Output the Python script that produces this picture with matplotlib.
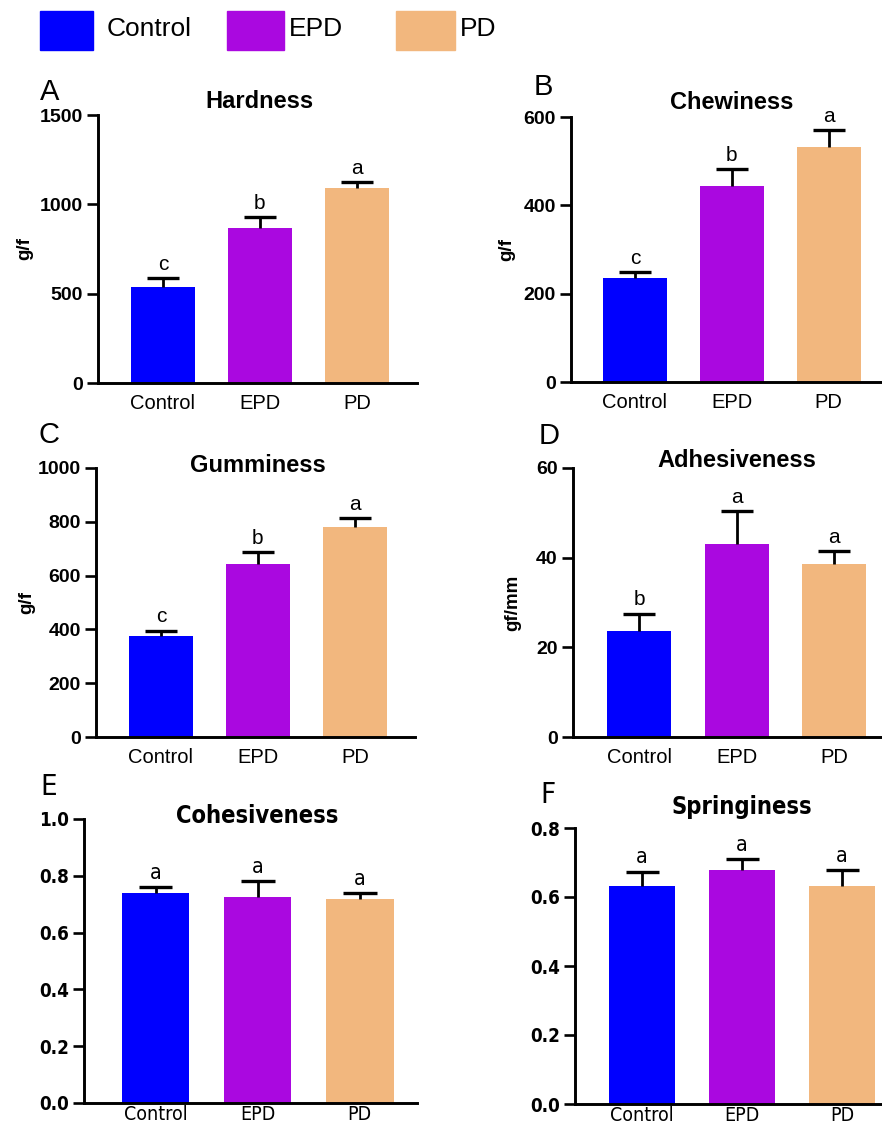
import matplotlib
matplotlib.use("Agg")
import matplotlib.pyplot as plt
from matplotlib.patches import Rectangle
from matplotlib.ticker import FormatStrFormatter
import numpy as np

groups = ["Control", "EPD", "PD"]
colors = ["#0000FF", "#AA08E0", "#F2B77E"]

hardness = [538, 866, 1089]
hardness_err = [47, 62, 34]
hardness_sig = ["c", "b", "a"]

chewiness = [236, 443, 531]
chewiness_err = [12, 39, 39]
chewiness_sig = ["c", "b", "a"]

gumminess = [374, 642, 782]
gumminess_err = [21, 44, 32]
gumminess_sig = ["c", "b", "a"]

adhesiveness = [23.6, 43.0, 38.5]
adhesiveness_err = [3.9, 7.4, 2.9]
adhesiveness_sig = ["b", "a", "a"]

cohesiveness = [0.738, 0.725, 0.717]
cohesiveness_err = [0.022, 0.055, 0.021]
cohesiveness_sig = ["a", "a", "a"]

springiness = [0.632, 0.677, 0.632]
springiness_err = [0.041, 0.032, 0.045]
springiness_sig = ["a", "a", "a"]

REG = ["Liberation Sans", "DejaVu Sans"]
NARROW = ["DejaVu Sans"]

W, H = 882, 1125
fig = plt.figure(figsize=(W / 100, H / 100), dpi=100)


def px_axes(left, right, top, bottom):
    return fig.add_axes([left / W, 1 - bottom / H, (right - left) / W, (bottom - top) / H])


# letter, title, values, err, sig, ylabel, yticks, ylim, xlim, box(px), title pad, letter pos, narrow?
panels = [
    ("A", "Hardness", hardness, hardness_err, hardness_sig, "g/f",
     [0, 500, 1000, 1500], (0, 1500), (-0.67, 2.62), (98, 417, 115, 383), 5, (40, 100), False),
    ("B", "Chewiness", chewiness, chewiness_err, chewiness_sig, "g/f",
     [0, 200, 400, 600], (0, 600), (-0.66, 2.55), (571, 882, 117, 382), 6, (534, 95), False),
    ("C", "Gumminess", gumminess, gumminess_err, gumminess_sig, "g/f",
     [0, 200, 400, 600, 800, 1000], (0, 1000), (-0.67, 2.62), (96, 415, 468, 737), -3, (38, 443), False),
    ("D", "Adhesiveness", adhesiveness, adhesiveness_err, adhesiveness_sig, "gf/mm",
     [0, 20, 40, 60], (0, 60), (-0.68, 2.49), (573, 882, 468, 737), 0.5, (539, 444), False),
    ("E", "Cohesiveness", cohesiveness, cohesiveness_err, cohesiveness_sig, None,
     [0, 0.2, 0.4, 0.6, 0.8, 1.0], (0, 1.0), (-0.70, 2.56), (84, 417, 819, 1103), -3, (40, 795), True),
    ("F", "Springiness", springiness, springiness_err, springiness_sig, None,
     [0, 0.2, 0.4, 0.6, 0.8], (0, 0.8), (-0.67, 2.40), (575, 882, 828, 1104), 10, (540, 803), True),
]
ylab_offset = {"A": 73, "B": 64, "C": 69, "D": 60}

x = np.arange(len(groups))
for letter, title, vals, err, sig, ylab, yt, ylim, xlim, box, tpad, lpos, narrow in panels:
    fam = NARROW if narrow else REG
    stretch = "condensed" if narrow else "normal"
    ax = px_axes(*box)
    vals = np.array(vals)
    err = np.array(err)
    ax.bar(x, vals, width=0.66, color=colors, zorder=2)
    # upper error bars only
    ax.vlines(x, vals, vals + err, color="black", linewidth=2.0, zorder=3)
    ax.hlines(vals + err, x - 0.165, x + 0.165, color="black", linewidth=2.4, zorder=3)
    for xi, top, s in zip(x, vals + err, sig):
        ax.annotate(s, xy=(xi, top), xytext=(0, 6), textcoords="offset points",
                    ha="center", va="baseline", fontsize=15.5 if narrow else 15,
                    family=fam, fontstretch=stretch)
    ax.set_xlim(*xlim)
    ax.set_ylim(*ylim)
    ax.set_yticks(yt)
    if narrow:
        ax.yaxis.set_major_formatter(FormatStrFormatter("%.1f"))
    ax.set_xticks(x)
    ax.set_xticklabels(groups, fontsize=14 if narrow else 14.5, family=fam, fontstretch=stretch)
    for lab in ax.get_yticklabels():
        lab.set_fontsize(13.5 if narrow else 14)
        lab.set_fontweight("bold")
        lab.set_family(fam)
        lab.set_fontstretch(stretch)
    ax.tick_params(axis="x", length=0, pad=1.5 if narrow else 8)
    ax.tick_params(axis="y", length=8, width=1.9, pad=3)
    for sp in ["top", "right"]:
        ax.spines[sp].set_visible(False)
    for sp in ["left", "bottom"]:
        ax.spines[sp].set_linewidth(2.1)
    ax.spines["left"].set_zorder(4)
    ax.annotate(title, xy=(1, 1), xycoords=("data", "axes fraction"), xytext=(0, tpad),
                textcoords="offset points", ha="center", va="baseline",
                fontsize=17, fontweight="bold", family=fam, fontstretch=stretch,
                annotation_clip=False)
    if ylab:
        x0 = box[0] - ylab_offset[letter]
        fig.text(x0 / W, 1 - (box[2] + box[3]) / 2 / H, ylab, rotation=90, ha="center", va="center",
                 fontsize=13.5, fontweight="bold", family=fam)
    fig.text(lpos[0] / W, 1 - lpos[1] / H, letter, fontsize=21, family=fam,
             fontstretch=stretch, ha="left", va="baseline")

# legend across the top
leg_patch = [(40, 93), (227, 284), (396, 455)]
for (x0, x1), g, c in zip(leg_patch, groups, colors):
    fig.add_artist(Rectangle((x0 / W, 1 - 50 / H), (x1 - x0) / W, 39 / H, color=c,
                             transform=fig.transFigure))
    fig.text((x1 + (14 if g == "Control" else 5)) / W, 1 - 29 / H, g, fontsize=19, family=REG,
             ha="left", va="center")

fig.savefig("out.png", dpi=100)
